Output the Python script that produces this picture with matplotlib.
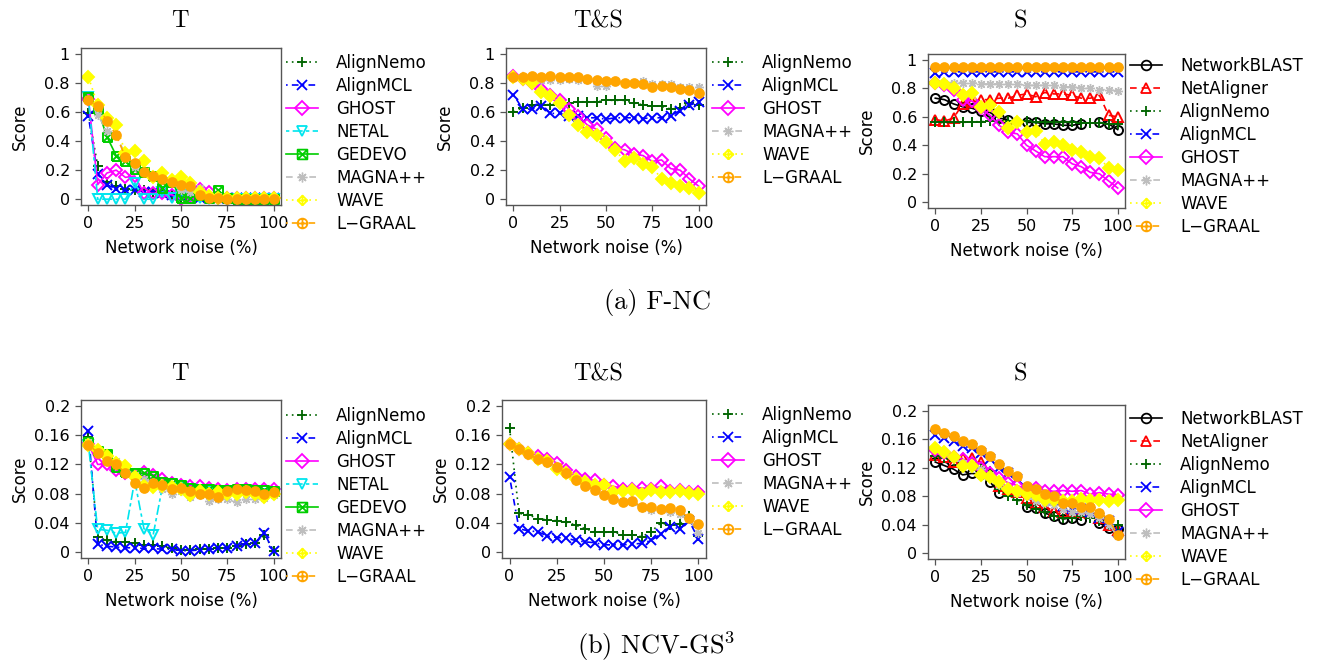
import numpy as np
import matplotlib.pyplot as plt
from matplotlib.path import Path
from matplotlib.lines import Line2D

plt.rcParams['font.family'] = ['DejaVu Sans']
plt.rcParams['mathtext.fontset'] = 'cm'

nan = np.nan
noise = list(range(0, 101, 5))

# (a) F-NC
fnc_t = {
    'AlignNemo': [0.59, 0.23, 0.12, 0.09, 0.07, 0.06, 0.06, 0.05, 0.04, 0.03, 0.01, 0.01, 0.01, 0.005, 0.005, 0.005, 0.005, 0.005, 0.005, 0.005, 0.005],
    'AlignMCL': [0.57, 0.17, 0.10, 0.07, 0.06, 0.06, 0.05, 0.05, 0.04, 0.03, 0.02, 0.02, 0.01, 0.01, 0.01, 0.005, 0.005, 0.005, 0.005, 0.005, 0.005],
    'GHOST': [0.69, 0.10, 0.18, 0.20, 0.15, 0.16, 0.04, 0.04, 0.04, 0.03, 0.00, 0.02, 0.07, 0.05, 0.01, 0.01, 0.005, 0.005, 0.005, 0.005, 0.005],
    'NETAL': [0.70, 0.00, 0.00, 0.00, 0.00, 0.11, 0.00, 0.00, 0.05, 0.01, 0.03, 0.03, 0.01, 0.0, 0.0, 0.0, 0.0, 0.0, 0.0, 0.0, 0.0],
    'GEDEVO': [0.70, 0.62, 0.43, 0.30, 0.26, 0.21, 0.19, 0.16, 0.08, 0.12, 0.01, 0.01, 0.03, 0.01, 0.06, 0.01, 0.0, 0.0, 0.0, 0.0, 0.0],
    'MAGNA++': [0.69, 0.58, 0.47, 0.45, 0.30, 0.22, 0.19, 0.16, 0.13, 0.11, 0.06, 0.05, 0.08, 0.03, 0.02, 0.01, 0.01, 0.01, 0.01, 0.01, 0.01],
    'WAVE': [0.84, 0.65, 0.56, 0.51, 0.32, 0.33, 0.26, 0.15, 0.18, 0.13, 0.15, 0.11, 0.05, 0.02, 0.01, 0.01, 0.005, 0.005, 0.005, 0.005, 0.005],
    'L\u2212GRAAL': [0.68, 0.64, 0.54, 0.44, 0.29, 0.25, 0.19, 0.16, 0.14, 0.12, 0.10, 0.09, 0.03, 0.01, 0.01, 0.0, 0.0, 0.0, 0.0, 0.0, 0.0],
}
fnc_ts = {
    'AlignNemo': [0.60, 0.63, 0.65, 0.65, 0.65, 0.66, 0.66, 0.67, 0.67, 0.67, 0.68, 0.68, 0.68, 0.66, 0.65, 0.64, 0.64, 0.62, 0.63, 0.66, 0.65],
    'AlignMCL': [0.72, 0.62, 0.62, 0.64, 0.59, 0.59, 0.57, 0.57, 0.56, 0.56, 0.55, 0.56, 0.56, 0.56, 0.555, 0.56, 0.56, 0.575, 0.61, 0.645, 0.67],
    'GHOST': [0.85, 0.83, 0.80, 0.76, 0.72, 0.68, 0.62, 0.57, 0.51, 0.48, 0.42, 0.35, 0.34, 0.31, 0.30, 0.26, 0.27, 0.21, 0.20, 0.14, 0.09],
    'MAGNA++': [0.84, 0.83, 0.83, 0.82, 0.82, 0.82, 0.83, 0.82, 0.82, 0.78, 0.78, 0.81, 0.80, 0.80, 0.81, 0.79, 0.79, 0.79, 0.77, 0.77, 0.77],
    'WAVE': [0.84, 0.83, 0.80, 0.74, 0.71, 0.66, 0.58, 0.51, 0.46, 0.44, 0.39, 0.34, 0.26, 0.28, 0.24, 0.22, 0.14, 0.11, 0.09, 0.08, 0.04],
    'L\u2212GRAAL': [0.84, 0.84, 0.845, 0.84, 0.845, 0.84, 0.84, 0.84, 0.83, 0.82, 0.81, 0.81, 0.80, 0.80, 0.79, 0.77, 0.78, 0.77, 0.76, 0.75, 0.73],
}
fnc_s = {
    'NetworkBLAST': [0.73, 0.72, 0.69, 0.67, 0.66, 0.64, 0.63, 0.59, 0.58, nan, 0.56, 0.56, 0.55, 0.55, 0.54, 0.54, 0.55, nan, 0.56, 0.55, 0.51],
    'NetAligner': [0.58, 0.57, 0.59, 0.69, 0.70, 0.72, 0.72, 0.73, 0.73, 0.75, 0.76, 0.74, 0.77, 0.76, 0.76, 0.75, 0.73, 0.73, 0.75, 0.61, 0.60],
    'AlignNemo': [0.56, 0.56, 0.56, 0.56, 0.565, 0.565, 0.57, 0.57, 0.57, 0.57, 0.57, 0.56, 0.56, 0.56, 0.56, 0.56, 0.555, 0.555, 0.555, 0.55, 0.55],
    'AlignMCL': [0.91, 0.915, 0.915, 0.915, 0.915, 0.915, 0.915, 0.915, 0.915, 0.915, 0.915, 0.915, 0.915, 0.915, 0.915, 0.915, 0.915, 0.915, 0.915, 0.915, 0.915],
    'GHOST': [0.84, 0.82, 0.79, 0.72, 0.71, 0.66, 0.61, 0.54, 0.49, 0.48, 0.40, 0.36, 0.32, 0.32, 0.32, 0.27, 0.25, 0.21, 0.20, 0.15, 0.10],
    'MAGNA++': [0.84, 0.84, 0.84, 0.84, 0.84, 0.83, 0.83, 0.83, 0.83, 0.83, 0.82, 0.82, 0.82, 0.82, 0.81, 0.81, 0.80, 0.80, 0.79, 0.79, 0.78],
    'WAVE': [0.84, 0.83, 0.80, 0.75, 0.77, 0.67, 0.68, 0.63, 0.52, 0.56, 0.49, 0.50, 0.41, 0.42, 0.40, 0.37, 0.35, 0.32, 0.31, 0.24, 0.23],
    'L\u2212GRAAL': [0.95] * 21,
}

# (b) NCV-GS3
ncv_t = {
    'AlignNemo': [0.157, 0.021, 0.016, 0.014, 0.014, 0.012, 0.010, 0.010, 0.008, 0.006, 0.003, 0.003, 0.004, 0.004, 0.005, 0.006, 0.009, 0.011, 0.012, 0.024, 0.002],
    'AlignMCL': [0.165, 0.011, 0.008, 0.007, 0.006, 0.006, 0.005, 0.005, 0.004, 0.004, 0.002, 0.002, 0.003, 0.004, 0.005, 0.006, 0.009, 0.012, 0.013, 0.026, 0.001],
    'GHOST': [0.148, 0.120, 0.120, 0.112, 0.108, 0.104, 0.109, 0.106, 0.100, 0.094, 0.092, 0.091, 0.090, 0.088, 0.086, 0.085, 0.086, 0.086, 0.087, 0.086, 0.087],
    'NETAL': [0.147, 0.031, 0.030, 0.026, 0.027, 0.098, 0.032, 0.024, 0.090, 0.088, 0.088, 0.086, 0.085, 0.083, 0.080, 0.082, 0.080, 0.080, 0.080, 0.079, 0.080],
    'GEDEVO': [0.150, 0.138, 0.134, 0.116, 0.110, 0.108, 0.108, 0.104, 0.096, 0.094, 0.092, 0.088, 0.087, 0.086, 0.085, 0.085, 0.086, 0.086, 0.085, 0.085, 0.084],
    'MAGNA++': [0.150, 0.140, 0.128, 0.125, 0.115, 0.105, 0.100, 0.096, 0.087, 0.080, 0.084, 0.075, 0.078, 0.070, 0.073, 0.072, 0.068, 0.073, 0.072, 0.074, 0.078],
    'WAVE': [0.147, 0.140, 0.132, 0.122, 0.118, 0.103, 0.090, 0.089, 0.090, 0.089, 0.086, 0.078, 0.084, 0.080, 0.082, 0.080, 0.080, 0.082, 0.080, 0.076, 0.080],
    'L\u2212GRAAL': [0.147, 0.136, 0.125, 0.120, 0.108, 0.095, 0.088, 0.094, 0.092, 0.086, 0.088, 0.084, 0.079, 0.080, 0.076, 0.084, 0.086, 0.085, 0.083, 0.080, 0.082],
}
ncv_ts = {
    'AlignNemo': [0.170, 0.053, 0.051, 0.046, 0.044, 0.043, 0.041, 0.037, 0.032, 0.028, 0.027, 0.028, 0.023, 0.024, 0.021, 0.028, 0.040, 0.037, 0.038, 0.050, 0.022],
    'AlignMCL': [0.103, 0.032, 0.029, 0.028, 0.022, 0.020, 0.019, 0.016, 0.014, 0.013, 0.010, 0.010, 0.010, 0.011, 0.012, 0.016, 0.025, 0.035, 0.032, 0.043, 0.018],
    'GHOST': [0.148, 0.141, 0.136, 0.132, 0.128, 0.122, 0.112, 0.104, 0.100, 0.098, 0.092, 0.090, 0.087, 0.087, 0.088, 0.086, 0.090, 0.084, 0.085, 0.082, 0.082],
    'MAGNA++': [0.148, 0.142, 0.135, 0.128, 0.122, 0.114, 0.108, 0.100, 0.092, 0.086, 0.080, 0.074, 0.070, 0.068, 0.060, 0.058, 0.058, 0.055, 0.052, 0.045, 0.026],
    'WAVE': [0.148, 0.141, 0.136, 0.128, 0.124, 0.114, 0.108, 0.100, 0.096, 0.092, 0.092, 0.082, 0.083, 0.085, 0.080, 0.085, 0.082, 0.082, 0.083, 0.081, 0.080],
    'L\u2212GRAAL': [0.148, 0.141, 0.134, 0.127, 0.123, 0.116, 0.108, 0.098, 0.091, 0.085, 0.078, 0.073, 0.068, 0.070, 0.062, 0.062, 0.059, 0.060, 0.057, 0.047, 0.038],
}
ncv_s = {
    'NetworkBLAST': [0.128, 0.123, 0.118, 0.110, 0.112, 0.111, 0.100, 0.085, nan, nan, 0.065, 0.064, 0.056, 0.053, 0.048, 0.050, 0.047, nan, 0.042, 0.036, 0.034],
    'NetAligner': [0.138, 0.135, 0.128, 0.133, 0.133, 0.128, 0.112, 0.095, 0.090, 0.086, 0.078, 0.070, 0.065, 0.060, 0.058, 0.058, 0.058, 0.056, 0.050, 0.040, 0.032],
    'AlignNemo': [0.136, 0.133, 0.130, 0.125, 0.122, 0.120, 0.115, 0.090, 0.080, 0.075, 0.068, 0.062, 0.058, 0.053, 0.050, 0.050, 0.052, 0.050, 0.046, 0.040, 0.039],
    'AlignMCL': [0.166, 0.162, 0.158, 0.150, 0.148, 0.140, 0.132, 0.120, 0.112, 0.104, 0.090, 0.085, 0.080, 0.075, 0.066, 0.062, 0.062, 0.058, 0.050, 0.046, 0.030],
    'GHOST': [0.145, 0.140, 0.135, 0.132, 0.126, 0.120, 0.112, 0.105, 0.099, 0.095, 0.090, 0.092, 0.088, 0.087, 0.088, 0.087, 0.088, 0.083, 0.085, 0.083, 0.082],
    'MAGNA++': [0.146, 0.142, 0.134, 0.126, 0.122, 0.118, 0.110, 0.096, 0.090, 0.085, 0.080, 0.073, 0.070, 0.068, 0.062, 0.058, 0.058, 0.055, 0.050, 0.040, 0.024],
    'WAVE': [0.148, 0.142, 0.135, 0.122, 0.122, 0.110, 0.107, 0.100, 0.090, 0.087, 0.083, 0.082, 0.075, 0.075, 0.073, 0.074, 0.076, 0.075, 0.075, 0.073, 0.075],
    'L\u2212GRAAL': [0.174, 0.169, 0.164, 0.157, 0.153, 0.145, 0.137, 0.125, 0.115, 0.108, 0.094, 0.090, 0.083, 0.080, 0.071, 0.070, 0.065, 0.065, 0.057, 0.048, 0.026],
}

xtick_vals = [0, 25, 50, 75, 100]
yticks_fnc = ['0', '0.2', '0.4', '0.6', '0.8', '1']
yticks_ncv = ['0', '0.04', '0.08', '0.12', '0.16', '0.2']


# R-like symbols
def compound(*parts):
    return Path.make_compound_path(*[Path(p) for p in parts])

plus_h = [(-1, 0), (1, 0)]
plus_v = [(0, -1), (0, 1)]
sq_x = compound([(-1, -1), (1, -1), (1, 1), (-1, 1), (-1, -1)], [(-1, -1), (1, 1)], [(-1, 1), (1, -1)])
dia_plus = compound([(0, -1), (1, 0), (0, 1), (-1, 0), (0, -1)], plus_h, plus_v)
circ = Path.unit_circle()
circ_plus = Path.make_compound_path(circ, Path(plus_h), Path(plus_v))

dotted = (0, (1, 2.5))
dotdash = (0, (1, 2.5, 4, 2.5))
dashed = (0, (4, 3))
twodash = (0, (2, 2, 6, 2))
star = (8, 2, 0)

# name: color, linestyle, plot marker, filled in plot, legend marker
styles = {
    'NetworkBLAST': ('black', '-', 'o', False, 'o'),
    'NetAligner': ('#FF0000', dashed, '^', False, '^'),
    'AlignNemo': ('#006400', dotted, '+', False, '+'),
    'AlignMCL': ('#0000FF', dotdash, 'x', False, 'x'),
    'GHOST': ('#FF00FF', '-', 'D', False, 'D'),
    'NETAL': ('#00E5EE', twodash, 'v', False, 'v'),
    'GEDEVO': ('#00CD00', '-', sq_x, False, sq_x),
    'MAGNA++': ('#BEBEBE', dashed, star, False, star),
    'WAVE': ('#FFFF00', dotted, 'D', True, dia_plus),
    'L\u2212GRAAL': ('#FFA500', dotdash, 'o', True, circ_plus),
}

W, H = 1317, 671
fig = plt.figure(figsize=(W / 100, H / 100), dpi=100)

panels = [
    # data, yticklabels, ymax, axes px (l, t, r, b), legend px (x, top)
    (fnc_t, yticks_fnc, 1.0, (81, 48, 281, 205), (286, 54)),
    (fnc_ts, yticks_fnc, 1.0, (506, 48, 706, 205), (712, 54)),
    (fnc_s, yticks_fnc, 1.0, (928, 54, 1125, 208), (1130, 57)),
    (ncv_t, yticks_ncv, 0.2, (81, 400, 281, 558), (286, 407)),
    (ncv_ts, yticks_ncv, 0.2, (502, 400, 706, 558), (712, 406)),
    (ncv_s, yticks_ncv, 0.2, (928, 405, 1125, 559), (1130, 410)),
]

for data, ylabels, ymax, (l, t, r, b), (lx, ly) in panels:
    ax = fig.add_axes([l / W, 1 - b / H, (r - l) / W, (b - t) / H])
    handles = []
    for name, vals in data.items():
        color, ls, mk, filled, lmk = styles[name]
        fc = color if filled else 'none'
        mew = 1.0 if mk == star else 1.4
        ax.plot(noise, vals, color=color, linestyle=ls, linewidth=1.2,
                marker=mk, markersize=6.3 if filled else 6.5, markerfacecolor=fc,
                markeredgecolor=color, markeredgewidth=mew)
        handles.append(Line2D([], [], color=color, linestyle=ls, linewidth=1.2,
                              marker=lmk, markersize=7, markerfacecolor='none',
                              markeredgecolor=color, markeredgewidth=1.0 if lmk == star else 1.3))
    ax.set_xlim(-4, 104)
    ax.set_ylim(-0.04 * ymax, 1.04 * ymax)
    ax.set_xticks(xtick_vals)
    ax.set_xticklabels([str(v) for v in xtick_vals])
    ax.set_yticks(np.linspace(0, ymax, 6))
    ax.set_yticklabels(ylabels)
    ax.tick_params(direction='out', length=4, width=0.9, color='#555555',
                   labelsize=11.5)
    ax.tick_params(axis='x', pad=4)
    ax.tick_params(axis='y', pad=4)
    for sp in ax.spines.values():
        sp.set_color('#555555')
        sp.set_linewidth(1.0)
    ax.set_xlabel('Network noise (%)', fontsize=12)
    ax.set_ylabel('Score', fontsize=12)
    ax.xaxis.set_label_coords(0.5, -34 / (b - t))
    ax.yaxis.set_label_coords(-52 / (r - l), 0.5)
    ax.legend(handles, list(data.keys()), loc='upper left',
              bbox_to_anchor=(lx / W, 1 - ly / H), bbox_transform=fig.transFigure,
              frameon=False, borderpad=0, borderaxespad=0, handlelength=1.9,
              handletextpad=1.1, labelspacing=0.3, fontsize=12)

titles = ['T', 'T&S', 'S']
title_x = [180, 598, 1020]
for ty in (21, 374):
    for txt, tx in zip(titles, title_x):
        fig.text(tx / W, 1 - ty / H, txt, fontfamily='cmr10', fontsize=17.5,
                 ha='center', va='center')

fig.text(657 / W, 1 - 303 / H, '(a) F-NC', fontfamily='cmr10', fontsize=19,
         ha='center', va='center')
fig.text(656 / W, 1 - 646 / H, r'(b) NCV-GS$^3$', fontfamily='cmr10', fontsize=19,
         ha='center', va='center')

fig.savefig('out.png', dpi=100)
